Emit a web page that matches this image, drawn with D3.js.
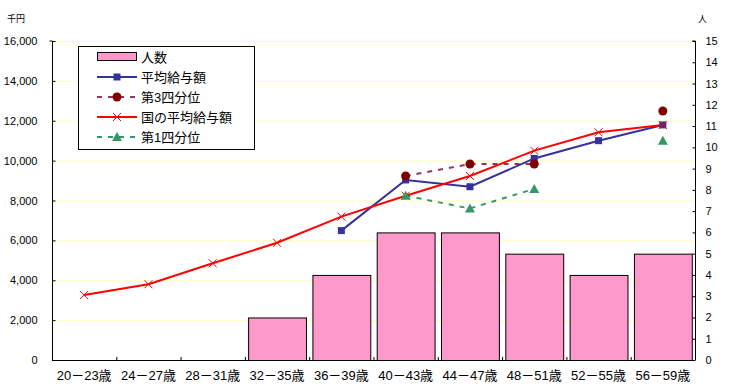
<!DOCTYPE html>
<html><head><meta charset="utf-8">
<script src="https://cdn.jsdelivr.net/npm/d3@7"></script>
<style>
html,body{margin:0;padding:0;background:#fff;}
svg{display:block;}
text{font-family:"Liberation Sans","Noto Sans CJK JP",sans-serif;}
</style></head>
<body>
<script>
const categories = ['20－23歳','24－27歳','28－31歳','32－35歳','36－39歳','40－43歳','44－47歳','48－51歳','52－55歳','56－59歳'];
const headcount = [null,null,null,2,4,6,6,5,4,5];
const avgPay = [null,null,null,null,6490,9030,8690,10110,11000,11790];
const q3 = [null,null,null,null,null,9230,9830,9830,null,12490];
const nationalAvg = [3260,3800,4850,5880,7190,8240,9230,10500,11420,11790];
const q1 = [null,null,null,null,null,8240,7600,8580,null,11000];
const leftTicks = [0,2000,4000,6000,8000,10000,12000,14000,16000];
const rightTicks = d3.range(0,16);
const legendLabels = ['人数','平均給与額','第3四分位','国の平均給与額','第1四分位'];

const W=732,H=392;
const L=52,R=695,T=41,B=360;
const svg=d3.select('body').append('svg').attr('width',W).attr('height',H);

const x=d3.scaleBand().domain(categories).range([L,R]).paddingInner(0.1).paddingOuter(0.05);
const xc=d3.scaleBand().domain(categories).range([L,R]).padding(0);
const cx=c=>xc(c)+xc.bandwidth()/2;
const yL=d3.scaleLinear().domain([0,16000]).range([B,T]);
const yR=d3.scaleLinear().domain([0,15]).range([B,T]);

// gridlines
svg.append('g').selectAll('line').data(leftTicks.filter(d=>d>0)).join('line')
  .attr('x1',L).attr('x2',R).attr('y1',d=>yL(d)+0.5).attr('y2',d=>yL(d)+0.5)
  .attr('stroke','#ffffb8').attr('stroke-width',1);

// bars
svg.append('g').selectAll('rect').data(categories.map((c,i)=>({c,v:headcount[i]})).filter(d=>d.v!=null)).join('rect')
  .attr('x',d=>x(d.c)+0.5).attr('y',d=>yR(d.v)+0.5).attr('width',x.bandwidth()).attr('height',d=>B-yR(d.v))
  .attr('fill','#ff99cc').attr('stroke','#000').attr('stroke-width',1);

// axes
const axL=svg.append('g').attr('transform',`translate(${L+0.5},0)`)
  .call(d3.axisLeft(yL).tickValues(leftTicks).tickSize(-3).tickPadding(15).tickFormat(d3.format(',')));
const axR=svg.append('g').attr('transform',`translate(${R+0.5},0)`)
  .call(d3.axisRight(yR).tickValues(rightTicks).tickSize(-3).tickPadding(10));
const axB=svg.append('g').attr('transform',`translate(0,${B+0.5})`)
  .call(d3.axisBottom(xc).tickSize(0).tickPadding(10));
[axL,axR,axB].forEach(a=>{a.select('.domain').attr('stroke','#000');a.selectAll('line').attr('stroke','#000');
  a.selectAll('text').attr('font-size',11).attr('fill','#000');});
axL.select('.domain').attr('d',`M-3,${T}H0V${B}`);
axR.select('.domain').attr('d',`M-3,${T}H0V${B}`);
axB.select('.domain').attr('d',`M${L},0H${R}`);
axB.selectAll('text').attr('font-size',13);
// category boundary ticks
svg.append('g').selectAll('line').data(categories.slice(1)).join('line')
  .attr('x1',d=>xc(d)+0.5).attr('x2',d=>xc(d)+0.5).attr('y1',B).attr('y2',B-3).attr('stroke','#000');

svg.append('text').attr('x',7).attr('y',22).attr('font-size',9).text('千円');
svg.append('text').attr('x',698).attr('y',22).attr('font-size',9).text('人');

// lines
function series(vals){return categories.map((c,i)=>({c,v:vals[i]}));}
const line=d3.line().defined(d=>d.v!=null).x(d=>cx(d.c)).y(d=>yL(d.v));
const gl=svg.append('g');
gl.append('path').datum(series(q3)).attr('d',line).attr('fill','none').attr('stroke','#993366').attr('stroke-width',2).attr('stroke-dasharray','5,6');
gl.append('path').datum(series(q1)).attr('d',line).attr('fill','none').attr('stroke','#339966').attr('stroke-width',2).attr('stroke-dasharray','5,6');
gl.append('path').datum(series(avgPay)).attr('d',line).attr('fill','none').attr('stroke','#333399').attr('stroke-width',2);
gl.append('path').datum(series(nationalAvg)).attr('d',line).attr('fill','none').attr('stroke','#ff0000').attr('stroke-width',2);

function markers(g,type,cxv,cyv){
  if(type==='sq') g.append('rect').attr('x',cxv-3.5).attr('y',cyv-3.5).attr('width',7).attr('height',7).attr('fill','#333399');
  if(type==='circ') g.append('circle').attr('cx',cxv).attr('cy',cyv).attr('r',4.5).attr('fill','#800000');
  if(type==='x') g.append('path').attr('d',`M${cxv-4},${cyv-4}L${cxv+4},${cyv+4}M${cxv-4},${cyv+4}L${cxv+4},${cyv-4}`).attr('stroke','#ff0000').attr('stroke-width',1);
  if(type==='tri') g.append('path').attr('d',`M${cxv},${cyv-5}L${cxv+5},${cyv+4}L${cxv-5},${cyv+4}Z`).attr('fill','#339966');
}
const gm=svg.append('g');
[[avgPay,'sq'],[q3,'circ'],[nationalAvg,'x'],[q1,'tri']].forEach(([vals,t])=>{
  series(vals).filter(d=>d.v!=null).forEach(d=>markers(gm,t,cx(d.c),yL(d.v)));
});

// legend
const lg=svg.append('g');
lg.append('rect').attr('x',78.5).attr('y',46.5).attr('width',176).attr('height',103).attr('fill','#fff').attr('stroke','#000');
const rowY=[57,77,97,117,137];
legendLabels.forEach((lab,i)=>{
  const y=rowY[i];
  if(i===0) lg.append('rect').attr('x',97.5).attr('y',y-4.5).attr('width',39).attr('height',8).attr('fill','#ff99cc').attr('stroke','#000');
  else{
    const styles=[null,['#333399',null,'sq'],['#993366','5,6','circ'],['#ff0000',null,'x'],['#339966','5,6','tri']][i];
    const l=lg.append('line').attr('x1',97).attr('x2',137).attr('y1',y).attr('y2',y).attr('stroke',styles[0]).attr('stroke-width',2);
    if(styles[1]) l.attr('stroke-dasharray',styles[1]).attr('stroke-dashoffset',0);
    markers(lg,styles[2],117,y);
  }
  lg.append('text').attr('x',141).attr('y',y+5).attr('font-size',13).text(lab);
});
</script>
</body></html>
